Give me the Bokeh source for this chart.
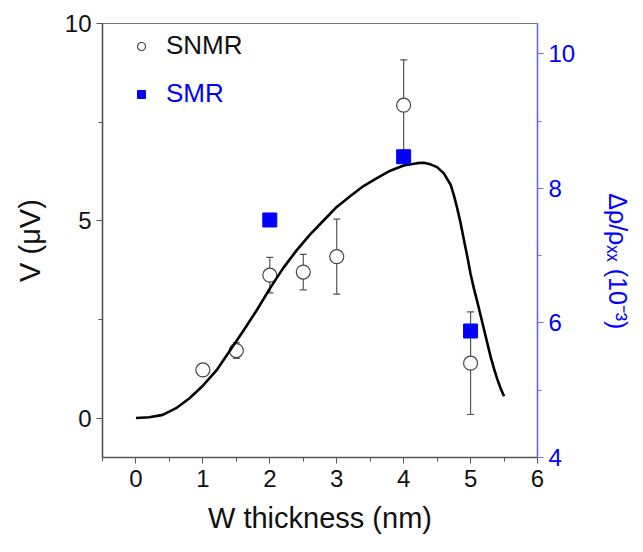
from bokeh.plotting import figure
from bokeh.models import (Range1d, LinearAxis, FixedTicker, Whisker, TeeHead,
                          ColumnDataSource, Legend, LegendItem)
from bokeh.embed import file_html
from bokeh.resources import INLINE

# ---------------- data ----------------
thickness_snmr = [1.0, 1.5, 2.0, 2.5, 3.0, 4.0, 5.0]
v_snmr = [1.22, 1.71, 3.62, 3.70, 4.09, 7.93, 1.39]
v_err = [0.13, 0.20, 0.45, 0.45, 0.95, 1.15, 1.30]

thickness_smr = [2.0, 4.0, 5.0]
smr_ratio = [7.53, 8.47, 5.88]

fit_x = [0.0, 0.2, 0.4, 0.6, 0.8, 1.0, 1.2, 1.4, 1.6, 1.8, 2.0, 2.2, 2.4, 2.6,
         2.8, 3.0, 3.2, 3.4, 3.6, 3.8, 4.0, 4.2, 4.3, 4.4, 4.5, 4.6, 4.7, 4.75,
         4.8, 4.85, 4.9, 4.95, 5.0, 5.05, 5.1, 5.15, 5.2, 5.25, 5.3, 5.35, 5.4,
         5.45, 5.5]
fit_y = [0.0, 0.02, 0.08, 0.25, 0.50, 0.82, 1.20, 1.70, 2.20, 2.72, 3.28, 3.80,
         4.25, 4.65, 5.00, 5.35, 5.62, 5.88, 6.08, 6.27, 6.40, 6.46, 6.47, 6.43,
         6.36, 6.20, 5.92, 5.65, 5.32, 4.95, 4.52, 4.10, 3.65, 3.28, 2.95, 2.60,
         2.25, 1.90, 1.55, 1.25, 0.98, 0.75, 0.55]

x_ticks = [0, 1, 2, 3, 4, 5, 6]
x_minor = [-0.5, 0.5, 1.5, 2.5, 3.5, 4.5, 5.5]
left_ticks = [0, 5, 10]
left_minor = [2.5, 7.5]
right_ticks = [4, 6, 8, 10]
right_minor = [5, 7, 9]

BLUE = "#0000ff"
AXBLUE = "#6a6aff"
FONT = "Liberation Sans"

X0, X1 = -0.5, 6.0
Y0, Y1 = -1.0, 10.0
R0, R1 = 4.0, 10.45

W, H = 643, 552
BL, BR, BT, BB = 102, 106, 23, 95

p = figure(width=W, height=H, x_range=Range1d(X0, X1), y_range=Range1d(Y0, Y1),
           output_backend="svg", toolbar_location=None,
           min_border_left=BL, min_border_right=BR,
           min_border_top=BT, min_border_bottom=BB)
p.xgrid.visible = False
p.ygrid.visible = False
p.outline_line_color = "#777777"
p.outline_line_width = 1.2
p.background_fill_color = "white"

p.extra_y_ranges = {"smr": Range1d(R0, R1)}

def style_axis(ax, label_color, line_color):
    ax.axis_line_color = line_color
    ax.axis_line_width = 1.5
    ax.major_tick_line_color = line_color
    ax.minor_tick_line_color = line_color
    ax.major_tick_out = 6
    ax.major_tick_in = 0
    ax.minor_tick_out = 4
    ax.minor_tick_in = 0
    ax.major_label_text_font = FONT
    ax.major_label_text_font_size = "24px"
    ax.major_label_text_color = label_color
    ax.axis_label_text_font = FONT
    ax.axis_label_text_font_style = "normal"
    ax.axis_label_text_font_size = "29px"
    ax.axis_label_text_color = label_color

xa = p.xaxis[0]
style_axis(xa, "#111111", "#555555")
xa.ticker = FixedTicker(ticks=x_ticks, minor_ticks=x_minor)
xa.axis_label = "W thickness (nm)"
xa.major_label_standoff = 6
xa.axis_label_standoff = 12

ya = p.yaxis[0]
style_axis(ya, "#111111", "#555555")
ya.ticker = FixedTicker(ticks=left_ticks, minor_ticks=left_minor)
ya.axis_label = "V (\u03bcV)"
ya.major_label_standoff = 5
ya.axis_label_standoff = 16

ra = LinearAxis(y_range_name="smr")
style_axis(ra, BLUE, AXBLUE)
ra.ticker = FixedTicker(ticks=right_ticks, minor_ticks=right_minor)
ra.major_label_standoff = 5
ra.axis_label = "\u00a0" * 6 + "\u0394\u03c1/\u03c1\u2093\u2093 (10\u207b\u00b3)"
ra.axis_label_text_font_size = "25px"
ra.axis_label_standoff = 26
p.add_layout(ra, "right")

# ---------------- glyphs ----------------
snmr_src = ColumnDataSource(dict(
    x=thickness_snmr, y=v_snmr,
    lo=[v - e for v, e in zip(v_snmr, v_err)],
    hi=[v + e for v, e in zip(v_snmr, v_err)]))

wh = Whisker(base="x", lower="lo", upper="hi", source=snmr_src,
             line_color="#555555", line_width=1.2,
             upper_head=TeeHead(size=7, line_color="#555555", line_width=1.2),
             lower_head=TeeHead(size=7, line_color="#555555", line_width=1.2))
p.add_layout(wh)

r_snmr = p.scatter("x", "y", source=snmr_src, marker="circle", size=14,
                   fill_color="white", line_color="#444444", line_width=1.2)

r_fit = p.line(fit_x, fit_y, line_color="black", line_width=2.6)

r_smr = p.scatter(thickness_smr, smr_ratio, y_range_name="smr", marker="square",
                  size=14, fill_color=BLUE, line_color=BLUE)

# ---------------- legends ----------------
def make_legend(item, color, loc):
    return Legend(items=[item], location=loc, orientation="vertical",
                  border_line_color=None, background_fill_alpha=0,
                  padding=0, margin=0, spacing=0, label_standoff=15,
                  glyph_width=20, glyph_height=20, label_height=20,
                  label_text_font=FONT, label_text_font_size="26px",
                  label_text_color=color)

p.add_layout(make_legend(LegendItem(label="SNMR", renderers=[r_snmr]), "#111111", (29, 396)))
p.add_layout(make_legend(LegendItem(label="SMR", renderers=[r_smr]), BLUE, (29, 348)))

open("out.html", "w").write(file_html(p, INLINE))
